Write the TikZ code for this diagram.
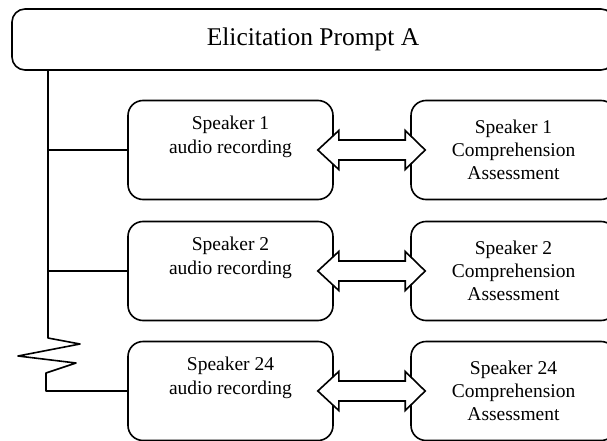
\documentclass[tikz,border=0pt]{standalone}
\usepackage{fontspec}
\setmainfont{Liberation Serif}
\usetikzlibrary{calc}
\tikzset{
  ln/.style={line width=1.6pt, line join=round},
  promptbox/.style={ln, draw, rounded corners=13pt, fill=white, minimum width=602pt, minimum height=61pt, inner sep=0pt,
    font=\fontsize{25.5}{29}\selectfont},
  spkbox/.style={ln, draw, rounded corners=15pt, fill=white, minimum width=205pt, minimum height=99pt, inner sep=0pt,
    align=center, font=\fontsize{19.5}{23.3}\selectfont},
  dbl/.style={ln, draw, fill=white, line join=miter}
}
\newcommand{\dblarrow}[2]{%
  \draw[dbl] ($(#1.east)+(-16,0)$) -- ++(21,-19.5) -- ++(0,9.5)
    -- ($(#2.west)+(-5,-10)$) -- ++(0,-9.5) -- ($(#2.west)+(15,0)$)
    -- ($(#2.west)+(-5,19.5)$) -- ++(0,-9.5) -- ($(#1.east)+(5,10)$)
    -- ++(0,9.5) -- cycle;}
\begin{document}
\begin{tikzpicture}[x=1pt,y=-1pt]
\useasboundingbox (0,0) rectangle (607,441);
\clip (0,0) rectangle (607,441);
\fill[white] (0,0) rectangle (607,441);

\node[promptbox] (prompt) at (313,39.5) {Elicitation Prompt A};

\node[spkbox] (L1) at (230.5,150) {Speaker 1\\audio recording\\\strut};
\node[spkbox] (R1) at (513.5,150) {Speaker 1\\Comprehension\\Assessment};
\node[spkbox] (L2) at (230.5,271) {Speaker 2\\audio recording\\\strut};
\node[spkbox] (R2) at (513.5,271) {Speaker 2\\Comprehension\\Assessment};
\node[spkbox] (L3) at (230.5,391) {Speaker 24\\audio recording\\\strut};
\node[spkbox] (R3) at (513.5,391) {Speaker 24\\Comprehension\\Assessment};

\coordinate (trunk) at (48,0);
\draw[ln] (trunk |- prompt.south) -- (48,338) -- (80,344) -- (18,356) -- (76,363)
  -- (46,373) -- (46,0 |- L3.west) -- (L3.west);
\draw[ln] (trunk |- L1.west) -- (L1.west);
\draw[ln] (trunk |- L2.west) -- (L2.west);

\dblarrow{L1}{R1}
\dblarrow{L2}{R2}
\dblarrow{L3}{R3}
\end{tikzpicture}
\end{document}
